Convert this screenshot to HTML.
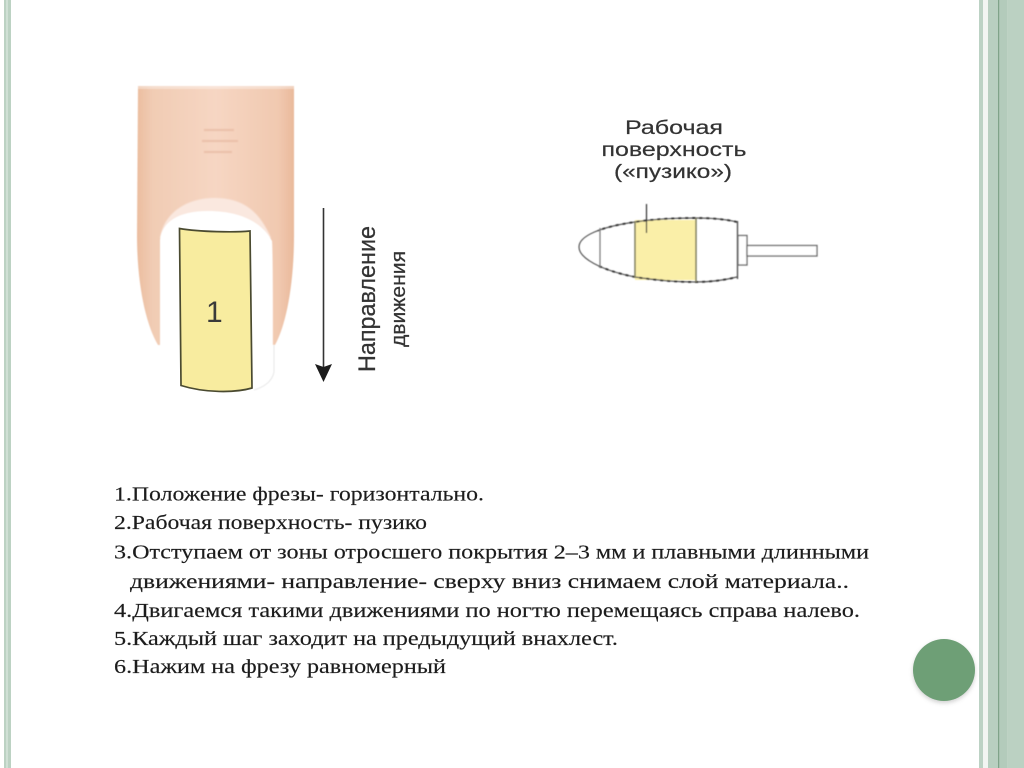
<!DOCTYPE html>
<html lang="ru">
<head>
<meta charset="utf-8">
<title>Положение фрезы</title>
<style>
html,body{margin:0;padding:0;background:#fff;width:1024px;height:768px;overflow:hidden}
svg{display:block}
</style>
</head>
<body>
<svg width="1024" height="768" viewBox="0 0 1024 768" xmlns="http://www.w3.org/2000/svg">
<defs>
<linearGradient id="skin" x1="0" x2="1" y1="0" y2="0">
<stop offset="0" stop-color="#ebbd9f"/>
<stop offset=".1" stop-color="#f1ccb4"/>
<stop offset=".5" stop-color="#f6d6c3"/>
<stop offset=".9" stop-color="#f1c9b0"/>
<stop offset="1" stop-color="#e9b99b"/>
</linearGradient>
<clipPath id="teeth"><rect x="598" y="200" width="145" height="100"/></clipPath>
<filter id="b1"><feGaussianBlur stdDeviation="0.9"/></filter>
<filter id="b2"><feGaussianBlur stdDeviation="0.45"/></filter>
<filter id="sh" x="-20%" y="-20%" width="140%" height="140%"><feGaussianBlur stdDeviation="2"/></filter>
</defs>
<rect width="1024" height="768" fill="#fff"/>

<!-- left border -->
<rect x="4" y="0" width="7" height="768" fill="#bcd2c3"/>
<rect x="6" y="0" width="2" height="768" fill="#d0e0d5"/>
<!-- right border -->
<rect x="979" y="0" width="4" height="768" fill="#bcd2c4"/>
<rect x="983" y="0" width="5" height="768" fill="#f2f5f2"/>
<rect x="988" y="0" width="10" height="768" fill="#b8cfc0"/>
<rect x="998" y="0" width="1.4" height="768" fill="#7fa389"/>
<rect x="999.4" y="0" width="8" height="768" fill="#b3cbbb"/>
<rect x="1007.4" y="0" width="17" height="768" fill="#bbd1c2"/>

<!-- finger -->
<g filter="url(#b2)">
<path d="M138 86 H294 V235 C294 285 286 325 275 345 L158 345 C146 325 137 285 137 235 Z" fill="url(#skin)"/>
</g>
<rect x="137" y="84" width="158" height="5" fill="#fff" opacity=".35" filter="url(#b1)"/>
<path d="M160 238 C164 212 188 198 214 198 C240 198 258 208 271 238 Z" fill="#fae8df" filter="url(#b1)"/>
<path d="M160 350 L160 240 C162 222 178 211 208 211 C240 211 262 222 272 241 C273 250 273 330 273 345 L274 372 C272 382 262 388 250 392 L175 393 C165 385 162 370 160 350 Z" fill="#fff" filter="url(#b2)"/>
<path d="M274 345 L274 372 C272 382 264 387 254 390" fill="none" stroke="#e8e8e8" stroke-width="1" filter="url(#b2)"/>
<g stroke="#eabfa8" stroke-width="2" fill="none" filter="url(#b1)">
<path d="M204 130 H234"/><path d="M202 141 H238"/><path d="M204 152 H232"/>
</g>
<!-- yellow band on the nail -->
<path d="M179.500 228.500 C200 232 235 232.500 250 231 L252 388 C235 393 205 393 181 385.500 Z" fill="#f8ec9f" stroke="#4a4a30" stroke-width="1.700"/>
<text x="206" y="322" font-family="'Liberation Sans',sans-serif" font-size="30" fill="#3a3a3a">1</text>

<!-- arrow -->
<line x1="323.500" y1="208" x2="323.500" y2="370" stroke="#333" stroke-width="1.600"/>
<path d="M315 364 L323.500 367 L332 364 L323.500 382 Z" fill="#1c1c1c"/>
<text transform="translate(375 372) rotate(-90)" font-family="'Liberation Sans',sans-serif" font-size="24" fill="#333" stroke="#333" stroke-width=".25" textLength="146" lengthAdjust="spacingAndGlyphs">Направление</text>
<text transform="translate(405 347) rotate(-90)" font-family="'Liberation Sans',sans-serif" font-size="20" fill="#333" stroke="#333" stroke-width=".25" textLength="96" lengthAdjust="spacingAndGlyphs">движения</text>

<!-- burr label -->
<g font-family="'Liberation Sans',sans-serif" font-size="19" fill="#333" stroke="#333" stroke-width=".2" text-anchor="middle">
<text x="674" y="134" textLength="98" lengthAdjust="spacingAndGlyphs">Рабочая</text>
<text x="674" y="156" textLength="145" lengthAdjust="spacingAndGlyphs">поверхность</text>
<text x="673" y="178" textLength="118" lengthAdjust="spacingAndGlyphs">(«пузико»)</text>
</g>

<!-- burr -->
<g filter="url(#b2)">
<rect x="635" y="220" width="61" height="60" fill="#faefa8"/>
<path d="M737 222 C725 219 710 218 696 218 C675 218 655 219 635 222 C600 227 579 236 579 247 C579 258 600 270 635 277 C655 280 675 282 696 282 C710 282 725 280 737 277" fill="none" stroke="#555" stroke-width="1.200"/>
<path clip-path="url(#teeth)" d="M737 222 C725 219 710 218 696 218 C675 218 655 219 635 222 C600 227 579 236 579 247 C579 258 600 270 635 277 C655 280 675 282 696 282 C710 282 725 280 737 277" fill="none" stroke="#333" stroke-width="1.900" stroke-dasharray="3 4"/>
<line x1="737.500" y1="221" x2="737.500" y2="279" stroke="#555" stroke-width="1.400"/>
<line x1="600" y1="228" x2="600" y2="268" stroke="#777" stroke-width="1.200"/>
<line x1="635" y1="221" x2="635" y2="278" stroke="#7d7c5c" stroke-width="1.500"/>
<line x1="696" y1="218" x2="696" y2="282" stroke="#7d7c5c" stroke-width="1.500"/>
<rect x="738" y="235.500" width="9" height="29.500" fill="#fff" stroke="#666" stroke-width="1.300"/>
<rect x="747" y="245.500" width="70" height="10.500" fill="#fff" stroke="#666" stroke-width="1.300"/>
<line x1="646.500" y1="204" x2="646.500" y2="233" stroke="#333" stroke-width="1.200"/>
</g>

<!-- text -->
<g font-family="'Liberation Serif',serif" font-size="20" fill="#1c1c1c" stroke="#1c1c1c" stroke-width=".15" style="white-space:pre">
<text x="114" y="500.500" textLength="370" lengthAdjust="spacingAndGlyphs">1.Положение фрезы- горизонтально.</text>
<text x="114" y="529" textLength="313" lengthAdjust="spacingAndGlyphs">2.Рабочая поверхность- пузико</text>
<text x="114" y="558.500" textLength="755" lengthAdjust="spacingAndGlyphs">3.Отступаем от зоны отросшего покрытия 2–3 мм и плавными  длинными</text>
<text x="130" y="588" textLength="719" lengthAdjust="spacingAndGlyphs">движениями- направление- сверху вниз снимаем слой  материала..</text>
<text x="114" y="617" textLength="746" lengthAdjust="spacingAndGlyphs">4.Двигаемся такими движениями по ногтю перемещаясь справа  налево.</text>
<text x="114" y="645" textLength="504" lengthAdjust="spacingAndGlyphs">5.Каждый шаг заходит на предыдущий внахлест.</text>
<text x="114" y="673" textLength="332" lengthAdjust="spacingAndGlyphs">6.Нажим на фрезу равномерный</text>
</g>

<!-- circle -->
<circle cx="944" cy="672" r="31" fill="#999" opacity=".45" filter="url(#sh)"/>
<circle cx="944" cy="670" r="31" fill="#6e9f76"/>
</svg>
</body>
</html>
